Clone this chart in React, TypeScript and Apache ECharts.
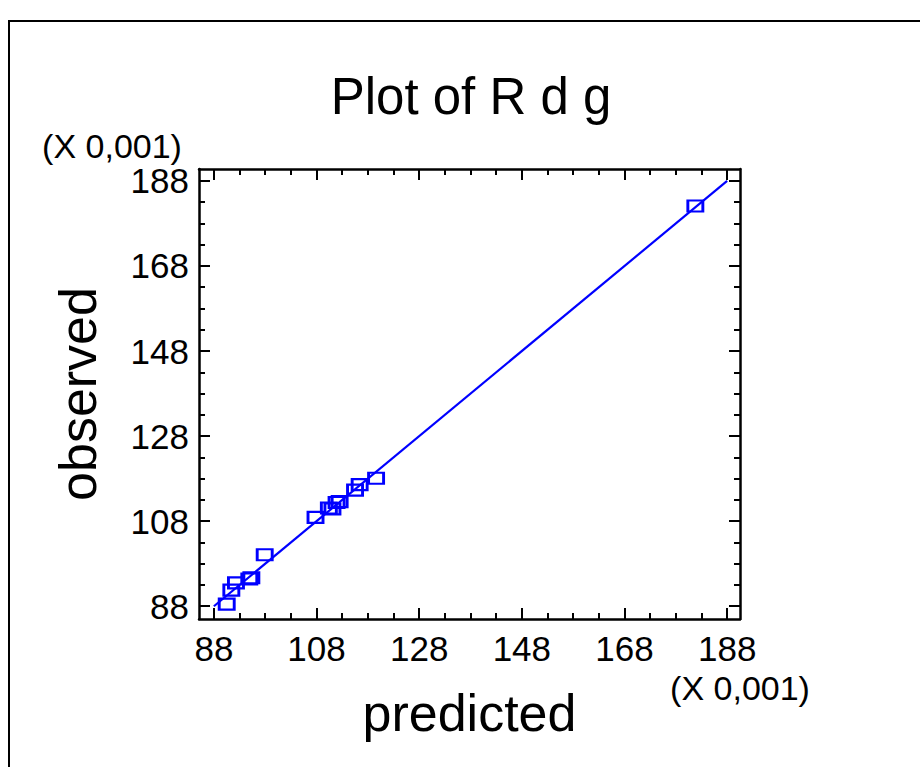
import React, { useEffect, useRef } from "react";
import * as echarts from "echarts";

const predicted = [90.5, 91.4, 92.3, 94.9, 95.3, 97.9, 107.8, 110.4, 111.1, 111.9, 112.5, 115.5, 116.4, 119.6, 181.8];
const observed = [88.5, 91.8, 93.5, 94.4, 94.7, 100.1, 108.9, 111.1, 110.9, 112.4, 112.6, 115.3, 116.6, 118.1, 182.1];
const fitLine = [
  [88, 88],
  [188, 188],
];
const majorTicks = [88, 108, 128, 148, 168, 188];
const minorTicks = [93, 98, 103, 113, 118, 123, 133, 138, 143, 153, 158, 163, 173, 178, 183];
const titleText = "Plot of R d g";
const xName = "predicted";
const yName = "observed";
const multiplierText = "(X 0,001)";

const FONT = "'Liberation Sans', Arial, Helvetica, sans-serif";

export default function App() {
  const ref = useRef<HTMLDivElement>(null);
  useEffect(() => {
    if (!ref.current) return;
    const chart = echarts.init(ref.current, null, { renderer: "svg" });
    const xMin = 85.1;
    const xMax = 190.5;
    const yMin = 85.0;
    const yMax = 190.8;
    const lineStyle = { color: "#000", width: 2.5 };
    const mkAxis = (
      kind: "x" | "y",
      position: string,
      ticks: number[],
      len: number,
      labels: boolean,
      showLine: boolean,
      name?: string
    ): any => ({
      type: "value",
      position,
      min: kind === "x" ? xMin : yMin,
      max: kind === "x" ? xMax : yMax,
      axisLine: { show: showLine, onZero: false, lineStyle },
      axisTick: {
        show: true,
        inside: true,
        length: len,
        customValues: ticks,
        lineStyle: { color: "#000", width: 2 },
      },
      axisLabel: labels
        ? {
            show: true,
            customValues: majorTicks,
            fontSize: 35,
            lineHeight: 28,
            fontFamily: FONT,
            color: "#000",
            margin: kind === "x" ? 15 : 10,
          }
        : { show: false },
      splitLine: { show: false },
      name: name,
      nameLocation: "middle",
      nameGap: kind === "x" ? 68 : 95,
      nameTextStyle: { fontSize: 52, fontFamily: FONT, color: "#000" },
    });
    chart.setOption({
      animation: false,
      backgroundColor: "#fff",
      grid: { left: 199, right: 180, top: 169, bottom: 148, containLabel: false },
      xAxis: [
        mkAxis("x", "bottom", majorTicks, 11, true, true, xName),
        mkAxis("x", "bottom", minorTicks, 6, false, false),
        mkAxis("x", "top", majorTicks, 11, false, true),
        mkAxis("x", "top", minorTicks, 6, false, false),
      ],
      yAxis: [
        mkAxis("y", "left", majorTicks, 11, true, true, yName),
        mkAxis("y", "left", minorTicks, 6, false, false),
        mkAxis("y", "right", majorTicks, 11, false, true),
        mkAxis("y", "right", minorTicks, 6, false, false),
      ],
      graphic: [
        {
          type: "rect",
          shape: { x: 9, y: 21, width: 960, height: 800 },
          style: { fill: "none", stroke: "#000", lineWidth: 2 },
          silent: true,
        },
        {
          type: "text",
          x: 471,
          y: 96,
          style: {
            text: titleText,
            fontSize: 51,
            fontFamily: FONT,
            fill: "#000",
            align: "center",
            verticalAlign: "middle",
          },
        },
        {
          type: "text",
          x: 112,
          y: 146,
          style: {
            text: multiplierText,
            fontSize: 34,
            lineHeight: 26,
            fontFamily: FONT,
            fill: "#000",
            align: "center",
            verticalAlign: "middle",
          },
        },
        {
          type: "text",
          x: 740,
          y: 688,
          style: {
            text: multiplierText,
            fontSize: 34,
            lineHeight: 26,
            fontFamily: FONT,
            fill: "#000",
            align: "center",
            verticalAlign: "middle",
          },
        },
      ],
      series: [
        {
          type: "line",
          xAxisIndex: 0,
          yAxisIndex: 0,
          data: fitLine,
          showSymbol: false,
          symbol: "none",
          lineStyle: { color: "#0000ff", width: 2.2 },
          silent: true,
        },
        {
          type: "scatter",
          xAxisIndex: 0,
          yAxisIndex: 0,
          data: predicted.map((p, i) => [p, observed[i]]),
          symbol: "rect",
          symbolSize: [15, 11],
          itemStyle: { color: "rgba(0,0,0,0)", borderColor: "#0000ff", borderWidth: 2.5, opacity: 1 },
        },
      ],
    });
    return () => chart.dispose();
  }, []);
  return (
    <div
      ref={ref}
      style={{ position: "fixed", left: 0, top: 0, width: 920, height: 767 }}
    />
  );
}
